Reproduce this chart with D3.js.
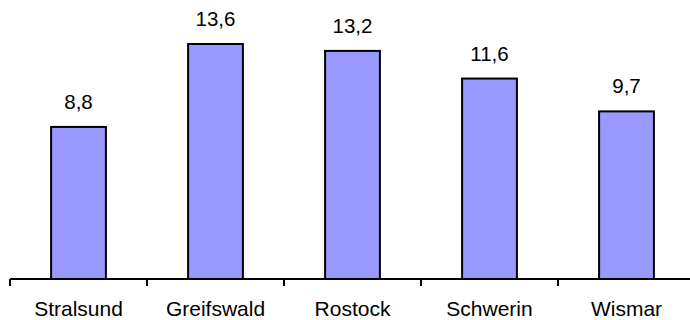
<!DOCTYPE html>
<html>
<head>
<meta charset="utf-8">
<script src="https://cdn.jsdelivr.net/npm/d3@7"></script>
<style>
  body { margin: 0; background: #fff; }
  text { font-family: "Liberation Sans", Arial, sans-serif; }
</style>
</head>
<body>
<svg id="chart" width="690" height="320"></svg>
<script>
// cities and their values
const cities = ["Stralsund", "Greifswald", "Rostock", "Schwerin", "Wismar"];
const values = [8.8, 13.6, 13.2, 11.6, 9.7];

const w = 690, h = 320;
const left = 10, bandW = 137, baseY = 279;

let svg = d3.select("#chart");

// x scale: each city gets one band
let xScale = d3.scaleBand()
    .domain(cities)
    .range([left, left + bandW * cities.length])
    .paddingInner(0.6)
    .paddingOuter(0.3);

// y scale
let yScale = d3.scaleLinear()
    .domain([0, 16])
    .range([baseY, baseY - 16 * 17.28]);

// bars
svg.append("g")
    .selectAll("rect")
    .data(values)
    .enter()
    .append("rect")
    .attr("x", (d, i) => xScale(cities[i]))
    .attr("y", d => yScale(d))
    .attr("width", xScale.bandwidth())
    .attr("height", d => yScale(0) - yScale(d))
    .attr("fill", "#9999FF")
    .attr("stroke", "#000")
    .attr("stroke-width", 2);

// value labels above the bars
svg.append("g")
    .selectAll("text")
    .data(values)
    .enter()
    .append("text")
    .attr("x", (d, i) => xScale(cities[i]) + xScale.bandwidth() / 2)
    .attr("y", d => yScale(d) - 18)
    .attr("text-anchor", "middle")
    .attr("font-size", "20.5px")
    .attr("fill", "#000")
    .text(d => String(d.toFixed(1)).replace(".", ","));

// x axis: baseline with ticks at the band edges
let edges = d3.range(cities.length + 1).map(i => left + i * bandW);
let axis = svg.append("g");
axis.append("line")
    .attr("x1", left).attr("x2", left + bandW * cities.length)
    .attr("y1", baseY).attr("y2", baseY)
    .attr("stroke", "#000").attr("stroke-width", 2);
axis.selectAll(".tick")
    .data(edges)
    .enter()
    .append("line")
    .attr("x1", d => d).attr("x2", d => d)
    .attr("y1", baseY).attr("y2", baseY + 7)
    .attr("stroke", "#000").attr("stroke-width", 2);
axis.selectAll(".lbl")
    .data(cities)
    .enter()
    .append("text")
    .attr("x", d => xScale(d) + xScale.bandwidth() / 2)
    .attr("y", baseY + 37)
    .attr("text-anchor", "middle")
    .attr("font-size", "21px")
    .attr("fill", "#000")
    .text(d => d);
</script>
</body>
</html>
